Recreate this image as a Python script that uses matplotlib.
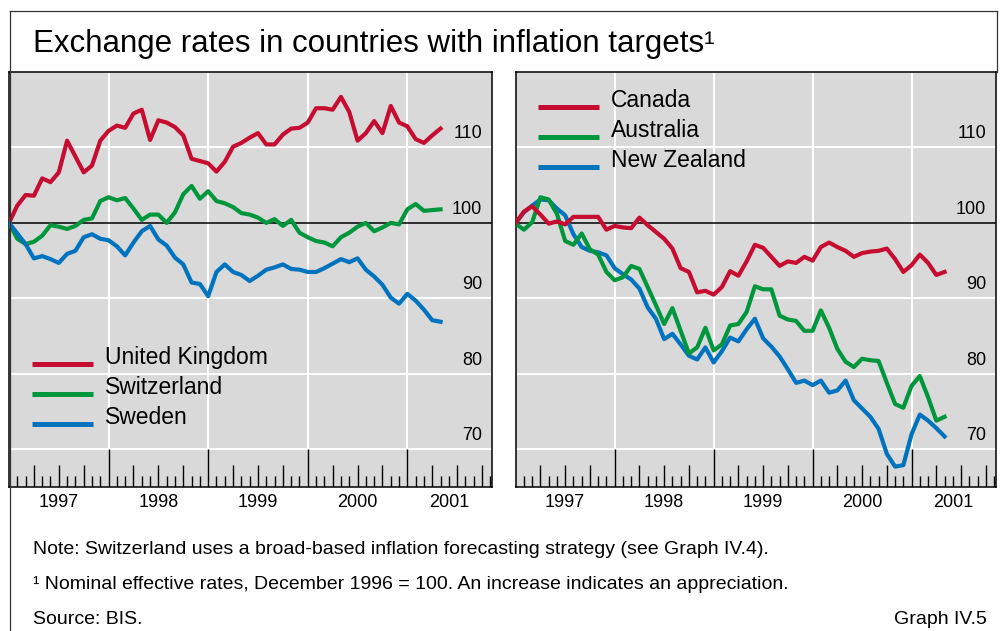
import matplotlib
matplotlib.use('agg')
import matplotlib.pyplot as plt
from matplotlib.lines import Line2D

plt.rcParams['font.family'] = ['Liberation Sans', 'DejaVu Sans']

# monthly index values, December 1996 = 100 (first point) to April 2001
uk = [100, 102.3, 103.7, 103.6, 105.9, 105.4, 106.7, 110.9, 108.8, 106.7,
      107.6, 110.9, 112.2, 112.9, 112.6, 114.5, 115.0, 111.0, 113.6, 113.3,
      112.7, 111.6, 108.5, 108.2, 107.9, 106.8, 108.1, 110.1, 110.6, 111.3,
      111.9, 110.4, 110.4, 111.7, 112.5, 112.6, 113.3, 115.2, 115.2, 115.0,
      116.7, 114.7, 110.9, 111.9, 113.5, 111.9, 115.5, 113.3, 112.8, 111.1,
      110.6, 111.6, 112.5]
switzerland = [100, 97.9, 97.2, 97.5, 98.3, 99.7, 99.5, 99.2, 99.6, 100.4,
               100.6, 102.9, 103.4, 103.0, 103.3, 101.9, 100.4, 101.1, 101.1, 100.0,
               101.4, 103.8, 104.9, 103.2, 104.2, 102.9, 102.6, 102.1, 101.3, 101.1,
               100.7, 100.0, 100.5, 99.6, 100.4, 98.7, 98.1, 97.6, 97.4, 96.9,
               98.1, 98.7, 99.5, 100.0, 98.9, 99.4, 100.0, 99.8, 101.8, 102.5,
               101.6, 101.7, 101.8]
sweden = [100, 98.6, 97.2, 95.3, 95.6, 95.2, 94.7, 95.9, 96.3, 98.1,
          98.5, 97.9, 97.7, 96.9, 95.7, 97.4, 98.9, 99.6, 97.8, 97.0,
          95.4, 94.5, 92.1, 91.9, 90.3, 93.5, 94.5, 93.5, 93.1, 92.3,
          93.0, 93.8, 94.1, 94.5, 93.9, 93.8, 93.5, 93.5, 94.0, 94.6,
          95.2, 94.8, 95.3, 93.8, 92.9, 91.8, 90.1, 89.3, 90.6, 89.7,
          88.5, 87.1, 86.9]
canada = [100, 101.5, 102.2, 101.1, 99.9, 100.2, 99.8, 100.8, 100.8, 100.8,
          100.8, 99.1, 99.6, 99.4, 99.3, 100.7, 99.7, 98.8, 97.9, 96.6,
          94.0, 93.5, 90.8, 91.0, 90.5, 91.5, 93.6, 93.0, 94.9, 97.1,
          96.7, 95.5, 94.3, 94.9, 94.7, 95.5, 95.0, 96.8, 97.4, 96.8,
          96.3, 95.5, 96.0, 96.2, 96.3, 96.6, 95.2, 93.5, 94.4, 95.8,
          94.7, 93.1, 93.5]
australia = [99.9, 99.1, 100.1, 103.4, 103.1, 101.2, 97.6, 97.1, 98.6, 96.5,
             95.8, 93.5, 92.4, 92.8, 94.3, 93.9, 91.5, 89.1, 86.6, 88.7,
             85.7, 82.7, 83.5, 86.1, 83.1, 83.9, 86.4, 86.6, 88.2, 91.6,
             91.2, 91.2, 87.7, 87.2, 87.0, 85.7, 85.7, 88.4, 86.1, 83.3,
             81.6, 80.9, 82.0, 81.8, 81.7, 78.8, 76.0, 75.5, 78.4, 79.7,
             76.9, 73.8, 74.3]
new_zealand = [100, 101.4, 102.3, 103.1, 103.0, 101.9, 101.0, 98.5, 96.8, 96.3,
               96.1, 95.7, 94.0, 93.2, 92.5, 91.3, 88.8, 87.3, 84.6, 85.3,
               83.9, 82.4, 81.9, 83.5, 81.5, 83.0, 84.8, 84.3, 85.9, 87.3,
               84.7, 83.6, 82.3, 80.6, 78.8, 79.1, 78.5, 79.1, 77.5, 77.8,
               79.1, 76.5, 75.4, 74.3, 72.7, 69.4, 67.7, 67.9, 72.0, 74.6,
               73.8, 72.8, 71.7]

years = [1997, 1998, 1999, 2000, 2001]
y_labels = [70, 80, 90, 100, 110]

RED = '#c60c30'
GREEN = '#00963c'
BLUE = '#0073be'
GREY = '#d9d9d9'

XMIN, XMAX = 1997.0, 2001.85
YMIN, YMAX = 65, 120


def months(series):
    return [XMIN + i / 12 for i in range(len(series))]


def setup(ax):
    ax.set_facecolor(GREY)
    ax.set_xlim(XMIN, XMAX)
    ax.set_ylim(YMIN, YMAX)
    ax.set_xticks([])
    ax.set_yticks([])
    for s in ax.spines.values():
        s.set_linewidth(1.1)
        s.set_color('black')
    # white grid
    ax.hlines([v for v in y_labels if v != 100], XMIN, XMAX, color='white', lw=1.5, zorder=1)
    ax.vlines(years[1:], 70, YMAX, color='white', lw=1.5, zorder=1)
    ax.axhline(100, color='black', lw=1.1, zorder=2)
    # tick band: years, quarters, months
    k = 1
    while XMIN + k / 12 < XMAX:
        x = XMIN + k / 12
        if k % 12 == 0:
            top = 70
        elif k % 3 == 0:
            top = 67.95
        else:
            top = 66.42
        ax.vlines(x, YMIN, top, color='black', lw=1.0, zorder=2)
        k += 1
    for v in y_labels:
        ax.annotate(str(v), xy=(1, v), xycoords=('axes fraction', 'data'),
                    xytext=(-7, 6.5), textcoords='offset points',
                    ha='right', va='baseline', fontsize=13)
    for yr in years:
        c = (max(yr, XMIN) + min(yr + 1, XMAX)) / 2
        ax.annotate(str(yr), xy=(c, YMIN), xycoords='data',
                    xytext=(0, -14.2), textcoords='offset points',
                    ha='center', va='baseline', fontsize=13, annotation_clip=False)


def key(ax, y, color, label):
    ax.plot([0.047, 0.173], [y, y], transform=ax.transAxes, color=color,
            lw=3.6, solid_capstyle='butt', zorder=4)
    ax.text(0.198, y + 0.015, label, transform=ax.transAxes, fontsize=16.5,
            va='center', ha='left', zorder=4)


fig = plt.figure(figsize=(10.05, 6.31), dpi=100)
ax1 = fig.add_axes([9 / 1005, 144 / 631, 483 / 1005, 415 / 631])
ax2 = fig.add_axes([515.7 / 1005, 144 / 631, 480 / 1005, 415 / 631])
setup(ax1)
setup(ax2)

lw = 3.0
ax1.plot(months(uk), uk, color=RED, lw=lw, zorder=3)
ax1.plot(months(switzerland), switzerland, color=GREEN, lw=lw, zorder=3)
ax1.plot(months(sweden), sweden, color=BLUE, lw=lw, zorder=3)

ax2.plot(months(new_zealand), new_zealand, color=BLUE, lw=lw, zorder=3)
ax2.plot(months(australia), australia, color=GREEN, lw=lw, zorder=3)
ax2.plot(months(canada), canada, color=RED, lw=lw, zorder=3)

key(ax1, 0.2964, RED, 'United Kingdom')
key(ax1, 0.2241, GREEN, 'Switzerland')
key(ax1, 0.1518, BLUE, 'Sweden')
key(ax2, 0.9157, RED, 'Canada')
key(ax2, 0.8434, GREEN, 'Australia')
key(ax2, 0.7711, BLUE, 'New Zealand')

# outer frame
fc = '#333333'
fig.add_artist(Line2D([9.5 / 1005, 9.5 / 1005], [0, 620 / 631], color=fc, lw=0.9))
fig.add_artist(Line2D([9.5 / 1005, 997 / 1005], [620 / 631, 620 / 631], color=fc, lw=0.9))
fig.add_artist(Line2D([997 / 1005, 997 / 1005], [559 / 631, 620 / 631], color=fc, lw=0.9))

fig.text(33 / 1005, (631 - 52) / 631, 'Exchange rates in countries with inflation targets\u00b9',
         fontsize=22.5, va='baseline', ha='left')

fig.text(33 / 1005, 77 / 631,
         'Note: Switzerland uses a broad-based inflation forecasting strategy (see Graph IV.4).',
         fontsize=14, va='baseline')
fig.text(33 / 1005, 42 / 631,
         '\u00b9 Nominal effective rates, December 1996 = 100. An increase indicates an appreciation.',
         fontsize=14, va='baseline')
fig.text(33 / 1005, 7 / 631, 'Source: BIS.', fontsize=14, va='baseline')
fig.text(987 / 1005, 7 / 631, 'Graph IV.5', fontsize=14, va='baseline', ha='right')

fig.savefig('out.png', dpi=100)
